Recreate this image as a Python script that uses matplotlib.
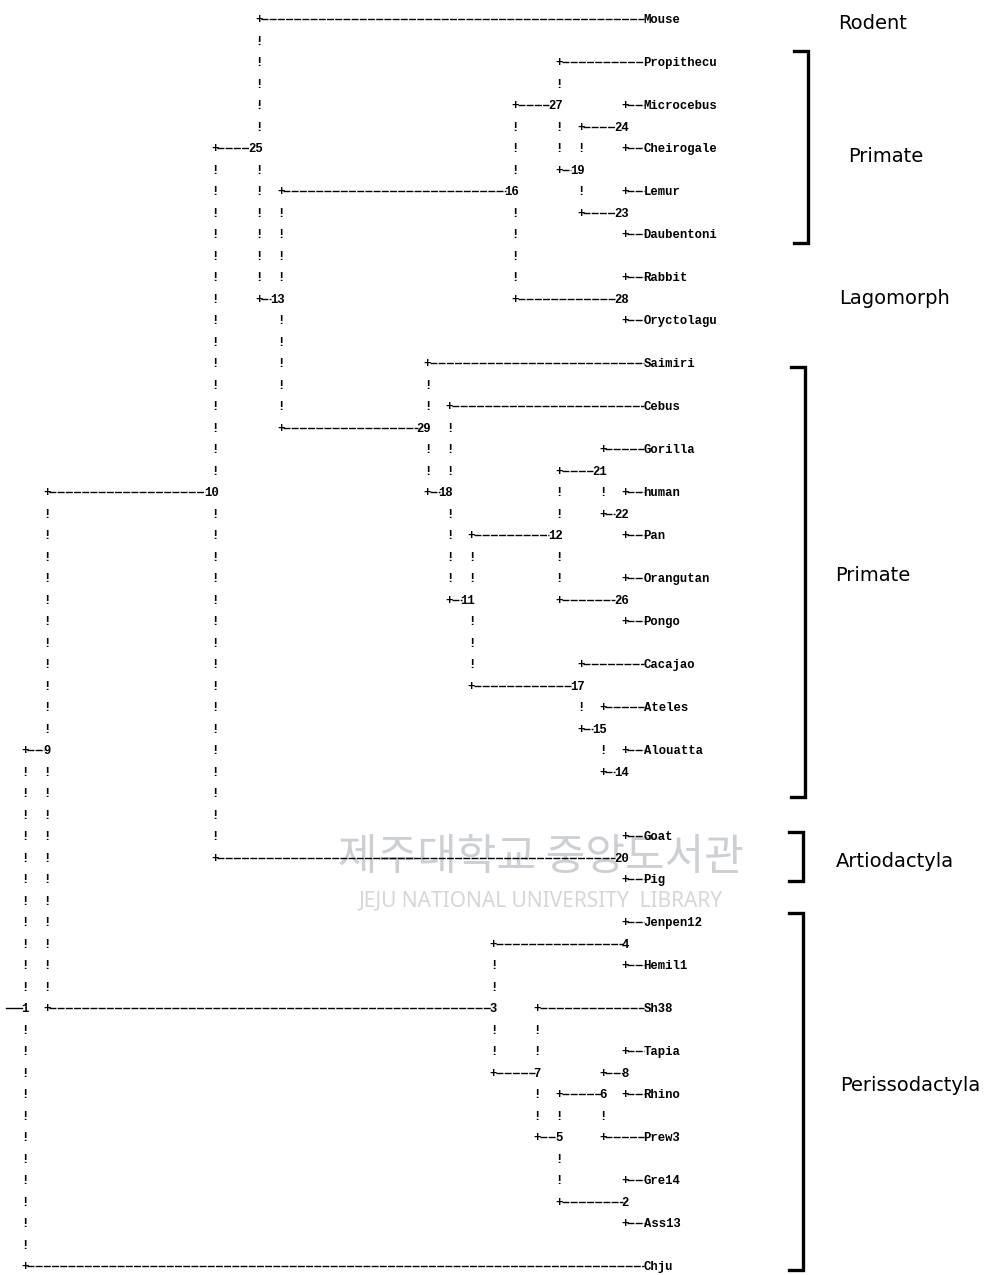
import matplotlib.pyplot as plt

plt.rcParams['lines.scale_dashes'] = False

# internal nodes of the printed tree: label, parent, printer row, printer column
node_names = ['1', '9', '10', '25', '13', '16', '27', '19', '24', '23', '28',
              '29', '18', '11', '12', '21', '22', '26', '17', '15', '14',
              '20', '3', '4', '7', '5', '6', '8', '2']
node_parents = [None, '1', '9', '10', '25', '13', '16', '27', '19', '19', '16',
                '13', '29', '18', '11', '12', '21', '12', '11', '17', '15',
                '10', '9', '3', '3', '7', '5', '6', '5']
node_rows = [46, 34, 22, 6, 13, 8, 4, 7, 5, 9, 13,
             19, 22, 27, 24, 21, 23, 27, 31, 33, 35,
             39, 46, 43, 49, 52, 50, 49, 55]
node_cols = [3, 6, 29, 35, 38, 70, 76, 79, 85, 85, 85,
             58, 61, 64, 76, 82, 85, 85, 79, 82, 85,
             85, 67, 85, 73, 76, 82, 85, 85]

# tips: name, parent, printer row (all tip names start in column 88)
leaf_names = ['Mouse', 'Propithecu', 'Microcebus', 'Cheirogale', 'Lemur',
              'Daubentoni', 'Rabbit', 'Oryctolagu', 'Saimiri', 'Cebus',
              'Gorilla', 'human', 'Pan', 'Orangutan', 'Pongo', 'Cacajao',
              'Ateles', 'Alouatta', 'Goat', 'Pig', 'Jenpen12', 'Hemil1',
              'Sh38', 'Tapia', 'Rhino', 'Prew3', 'Gre14', 'Ass13', 'Chju']
leaf_parents = ['25', '27', '24', '24', '23', '23', '28', '28', '29', '18',
                '21', '22', '22', '26', '26', '17', '15', '14', '20', '20',
                '4', '4', '7', '8', '8', '6', '2', '2', '1']
leaf_rows = [0, 2, 4, 6, 8, 10, 12, 14, 16, 18, 20, 22, 24, 26, 28, 30, 32, 34,
             38, 40, 42, 44, 46, 48, 50, 52, 54, 56, 58]
leaf_col = 88

# group brackets on the right
groups = ['Rodent', 'Primate', 'Lagomorph', 'Primate', 'Artiodactyla', 'Perissodactyla']
group_rows = [0.2, 6.4, 13.0, 25.9, 39.2, 49.6]
group_cols = [118.8, 120.6, 121.8, 118.8, 121.8, 123.9]
bracket_top = [1.5, 16.2, 37.8, 41.6]
bracket_bottom = [10.4, 36.2, 40.1, 58.2]
bracket_cols = [110.0, 109.6, 109.3, 109.3]

mono = dict(family=['Liberation Mono', 'DejaVu Sans Mono'], fontsize=8.8,
            fontweight='bold', color='black')
base = 0.19  # baseline offset below the row centre
dash = dict(color='black', lw=1.0, dashes=(5.0, 0.9), zorder=2)

fig = plt.figure(figsize=(10.05, 12.75), dpi=100)
ax = fig.add_axes([0, 0, 1, 1])
ax.set_xlim(-3 / 7.32, 1002 / 7.32)
ax.set_ylim(1256 / 21.5, -19 / 21.5)
ax.axis('off')

# faint library watermark of the scan
ax.text(73.5, 39.0, '제주대학교 중앙도서관', family=['Noto Sans CJK KR'], fontsize=31,
        color='#ccd0d4', ha='center', va='center', zorder=0)
ax.text(73.5, 41.0, 'JEJU NATIONAL UNIVERSITY  LIBRARY', family=['Noto Sans', 'DejaVu Sans'],
        fontsize=15, color='#d4d7da', ha='center', va='center', zorder=0)

pos = {n: (r, c) for n, r, c in zip(node_names, node_rows, node_cols)}
children = {n: [] for n in node_names}
for n, p in zip(node_names, node_parents):
    if p is not None:
        children[p].append(pos[n][0])
for p, r in zip(leaf_parents, leaf_rows):
    children[p].append(r)

def branch(row, pcol, end):
    ax.text(pcol, row + base, '+', ha='center', va='baseline', zorder=3, **mono)
    ax.plot([pcol + 0.3, end], [row, row], **dash)

# internal nodes
for n, p, r, c in zip(node_names, node_parents, node_rows, node_cols):
    left = c + 0.5 - len(n)
    if p is None:
        ax.plot([0.4, left + 0.15], [r, r], color='black', lw=1.0, zorder=2)
    else:
        branch(r, pos[p][1], left + 0.15)
    ax.text(c + 0.5, r + base, n, ha='right', va='baseline', zorder=3, **mono)
    # vertical connector drawn as "!" characters
    lo, hi = min(children[n]), max(children[n])
    for k in range(lo + 1, hi):
        if k != r:
            ax.text(c, k + base, '!', ha='center', va='baseline', zorder=3, **mono)

# tips
for name, p, r in zip(leaf_names, leaf_parents, leaf_rows):
    branch(r, pos[p][1], leaf_col - 0.4)
    ax.text(leaf_col - 0.5, r + base, name, ha='left', va='baseline', zorder=3, **mono)

# brackets and group names
for t, b, x in zip(bracket_top, bracket_bottom, bracket_cols):
    ax.plot([x - 1.9, x, x, x - 1.9], [t, t, b, b], color='black', lw=2.4,
            solid_joinstyle='miter', zorder=3)
for g, r, c in zip(groups, group_rows, group_cols):
    ax.text(c, r, g, family=['DejaVu Sans'], fontsize=14,
            ha='center', va='center', color='black')

fig.savefig('out.png', dpi=100)
